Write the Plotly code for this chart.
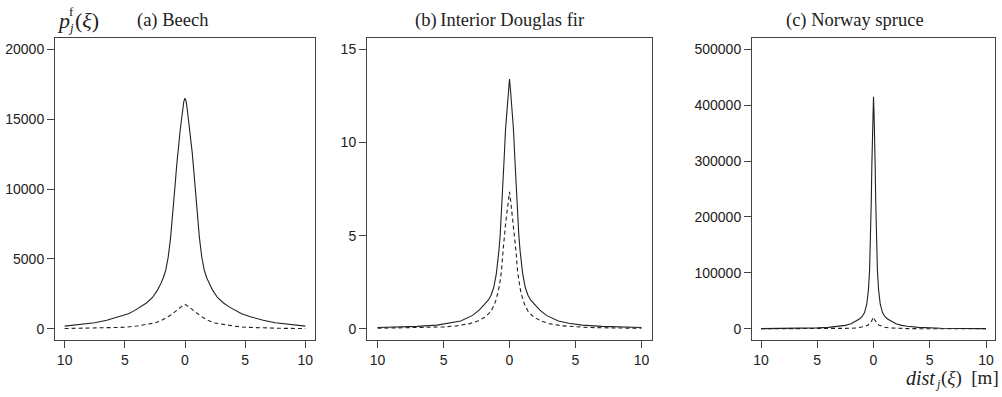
import plotly.graph_objects as go

# Each profile is given for distances >= 0 and drawn on both sides of the tree.

# (a) Beech
beech_solid_d = [0, 0.1, 0.2, 0.3, 0.4, 0.5, 0.6, 0.7, 0.8, 0.9, 1.0, 1.1, 1.2, 1.4, 1.6,
                 1.8, 2.0, 2.3, 2.7, 3.2, 3.7, 4.2, 4.7, 5.5, 6.5, 7.5, 8.5, 10]
beech_solid = [16500, 16250, 15600, 14900, 14200, 13500, 12600, 11600, 10500, 9500, 8500,
               7400, 6500, 5100, 4200, 3650, 3250, 2750, 2240, 1850, 1550, 1300, 1080, 850,
               610, 430, 320, 190]
beech_dashed_d = [0, 0.25, 0.5, 0.75, 1.0, 1.25, 1.5, 1.75, 2.0, 2.5, 3.0, 3.5, 4, 5, 6, 7, 8, 10]
beech_dashed = [1750, 1620, 1450, 1250, 1110, 950, 810, 680, 570, 420, 330, 260, 200, 110,
                70, 50, 35, 20]

# (b) Interior Douglas fir
fir_solid_d = [0, 0.1, 0.2, 0.3, 0.4, 0.5, 0.6, 0.7, 0.8, 0.9, 1.0, 1.2, 1.4, 1.6, 1.9,
               2.3, 2.8, 3.7, 4.5, 5.5, 7, 8.5, 10]
fir_solid = [13.4, 12.6, 11.7, 10.7, 9.2, 7.7, 6.3, 5.1, 4.2, 3.5, 2.95, 2.2, 1.8, 1.55,
             1.31, 1.0, 0.72, 0.42, 0.3, 0.2, 0.13, 0.09, 0.07]
fir_dashed_d = [0, 0.1, 0.2, 0.3, 0.42, 0.5, 0.61, 0.7, 0.8, 0.9, 1.0, 1.14, 1.4, 1.8,
                2.4, 3, 4, 5, 6, 8, 10]
fir_dashed = [7.35, 6.8, 6.2, 5.6, 4.87, 4.1, 3.09, 2.6, 2.2, 1.85, 1.6, 1.31, 0.95, 0.65,
              0.42, 0.28, 0.16, 0.1, 0.07, 0.045, 0.03]

# (c) Norway spruce
spruce_solid_d = [0, 0.05, 0.1, 0.15, 0.2, 0.25, 0.3, 0.35, 0.45, 0.6, 0.8, 1.0, 1.25, 1.5,
                  2, 2.5, 3, 4, 5, 6, 8, 10]
spruce_solid = [415000, 385000, 355000, 290000, 225000, 175000, 135000, 104000, 70000,
                44000, 29000, 22000, 17500, 14200, 9000, 6200, 4500, 2600, 1600, 1100,
                600, 350]
spruce_dashed_d = [0, 0.1, 0.2, 0.3, 0.5, 0.75, 1.0, 1.5, 2, 3, 4, 5, 6, 8, 10]
spruce_dashed = [21000, 16500, 12500, 9800, 6500, 4300, 2900, 1500, 900, 400, 220, 130,
                 80, 40, 20]

titles = ["(a) Beech", "(b)\u2009Interior Douglas fir", "(c) Norway spruce"]
y_ticks = [[0, 5000, 10000, 15000, 20000],
           [0, 5, 10, 15],
           [0, 100000, 200000, 300000, 400000, 500000]]
y_ranges = [[-800, 20800], [-0.6, 15.6], [-20000, 520000]]
x_ticks = [-10, -5, 0, 5, 10]
x_tick_text = ["10", "5", "0", "5", "10"]

profiles = [
    (beech_solid_d, beech_solid, beech_dashed_d, beech_dashed),
    (fir_solid_d, fir_solid, fir_dashed_d, fir_dashed),
    (spruce_solid_d, spruce_solid, spruce_dashed_d, spruce_dashed),
]


def both_sides(d, v):
    """Mirror a profile given for d >= 0 onto negative distances."""
    xs = [-a for a in reversed(d[1:])] + list(d)
    ys = list(reversed(v[1:])) + list(v)
    return xs, ys


W, H = 1002, 397
x_domains = [(55, 315), (367, 652), (752, 995)]
title_centres = [172.5, 499, 855]
y_domain = [1 - 340 / H, 1 - 38 / H]

LINE = "#222222"
AXIS = "#444444"
TEXT = "#222222"
SANS = "Liberation Sans"
SERIF = "Liberation Serif"

fig = go.Figure()
layout = dict(
    width=W, height=H,
    margin=dict(l=0, r=0, t=0, b=0),
    paper_bgcolor="white", plot_bgcolor="white",
    showlegend=False,
    font=dict(family=SANS, size=14, color=TEXT),
)

annotations = []
for i, (sd, sv, dd, dv) in enumerate(profiles):
    n = "" if i == 0 else str(i + 1)
    xa, ya = "x" + n, "y" + n
    xs, ys = both_sides(sd, sv)
    fig.add_trace(go.Scatter(x=xs, y=ys, mode="lines", xaxis=xa, yaxis=ya,
                             line=dict(color=LINE, width=1.1)))
    xs, ys = both_sides(dd, dv)
    fig.add_trace(go.Scatter(x=xs, y=ys, mode="lines", xaxis=xa, yaxis=ya,
                             line=dict(color=LINE, width=1.1, dash="4px,3px")))
    d0, d1 = x_domains[i]
    axis_common = dict(showline=True, linecolor=AXIS, linewidth=1, mirror=True,
                       ticks="outside", ticklen=7, tickcolor=AXIS, tickwidth=1,
                       showgrid=False, zeroline=False, fixedrange=True,
                       tickfont=dict(family=SANS, size=14, color=TEXT))
    layout["xaxis" + n] = dict(domain=[d0 / W, d1 / W], range=[-10.8, 10.8],
                               anchor=ya, tickvals=x_ticks, ticktext=x_tick_text,
                               **axis_common)
    layout["yaxis" + n] = dict(domain=y_domain, range=y_ranges[i], anchor=xa,
                               tickvals=y_ticks[i],
                               ticktext=[str(v) for v in y_ticks[i]],
                               **axis_common)
    annotations.append(dict(text=titles[i], x=title_centres[i] / W, y=1 - 20 / H,
                            xanchor="center", yanchor="middle",
                            font=dict(family=SERIF, size=18.5, color=TEXT)))

# y-axis label p_j^f(xi), with sub/superscript stacked
annotations += [
    dict(text="<i>p</i>", x=55 / W, y=1 - 20 / H, xanchor="left", yanchor="middle",
         font=dict(family=SERIF, size=22, color=TEXT)),
    dict(text="f", x=67 / W, y=1 - 12 / H, xanchor="left", yanchor="middle",
         font=dict(family=SERIF, size=13, color=TEXT)),
    dict(text="<i>j</i>", x=66 / W, y=1 - 27 / H, xanchor="left", yanchor="middle",
         font=dict(family=SERIF, size=13, color=TEXT)),
    dict(text="(<i>\u03be</i>)", x=73 / W, y=1 - 20 / H, xanchor="left", yanchor="middle",
         font=dict(family=SERIF, size=22, color=TEXT)),
    # x-axis label dist_j(xi) [m]
    dict(text="<i>dist</i>", x=904 / W, y=1 - 378 / H, xanchor="left", yanchor="middle",
         font=dict(family=SERIF, size=20, color=TEXT)),
    dict(text="<i>j</i>", x=933 / W, y=1 - 384 / H, xanchor="left", yanchor="middle",
         font=dict(family=SERIF, size=12, color=TEXT)),
    dict(text="(<i>\u03be</i>)\u2002[m]", x=1001 / W, y=1 - 378 / H, xanchor="right",
         yanchor="middle", font=dict(family=SERIF, size=19, color=TEXT)),
]
for a in annotations:
    a.setdefault("xref", "paper")
    a.setdefault("yref", "paper")
    a.setdefault("showarrow", False)
layout["annotations"] = annotations

fig.update_layout(**layout)
fig.write_html("out.html", config={"displayModeBar": False})
